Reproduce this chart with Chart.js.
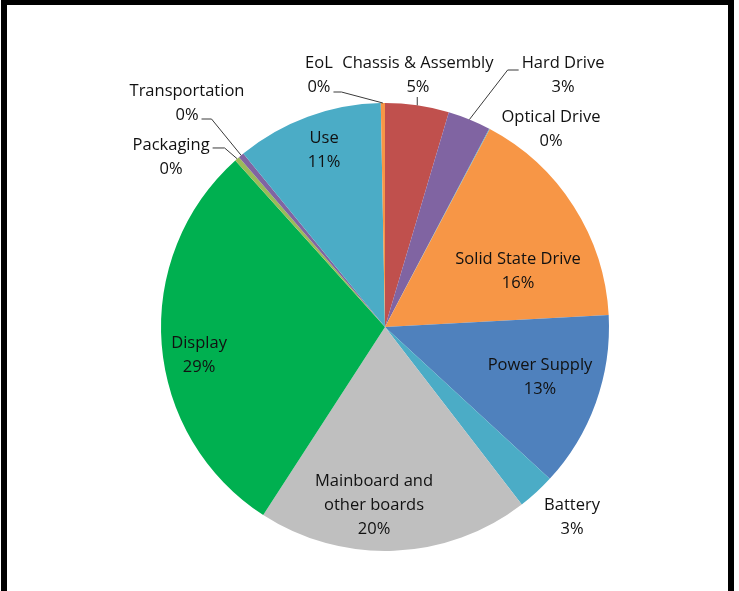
<!DOCTYPE html>
<html>
<head>
<meta charset="utf-8">
<script src="https://cdn.jsdelivr.net/npm/chart.js@4/dist/chart.umd.min.js"></script>
<style>
  html, body { margin: 0; padding: 0; background: #fff; }
  body { width: 739px; height: 591px; position: relative; overflow: hidden; }
  #frame { position: absolute; left: 1px; top: 0; width: 733px; height: 600px; box-sizing: border-box;
           border-top: 5px solid #000; border-left: 6px solid #000; border-right: 6px solid #000; pointer-events: none; z-index: 2; }
  #wrap { position: absolute; left: 0; top: 0; width: 739px; height: 591px; }
</style>
</head>
<body>
<div id="wrap"><canvas id="c"></canvas></div>
<div id="frame"></div>
<script>
// ---- data ----
const categories = ['Chassis & Assembly', 'Hard Drive', 'Optical Drive', 'Solid State Drive', 'Power Supply', 'Battery',
                    'Mainboard and other boards', 'Display', 'Packaging', 'Transportation', 'Use', 'EoL'];
const shares = [4.6, 3.1, 0.05, 16.4, 12.7, 2.7, 19.6, 29.2, 0.35, 0.4, 10.6, 0.3];
const labelLines = [['Chassis & Assembly'], ['Hard Drive'], ['Optical Drive'], ['Solid State Drive'], ['Power Supply'], ['Battery'],
                    ['Mainboard and', 'other boards'], ['Display'], ['Packaging'], ['Transportation'], ['Use'], ['EoL']];
const sliceColors = ['#C0504D', '#8064A2', '#4BACC6', '#F79646', '#4F81BD', '#4BACC6',
                     '#BFBFBF', '#00B050', '#9BBB59', '#8064A2', '#4BACC6', '#F79646'];

// ---- label layout (fractions of radius from the pie centre) ----
const labelLayout = [
  { fx: 0.147, fy: -1.125, leader: { type: 'down' } },
  { fx: 0.795, fy: -1.125, leader: { type: 'elbow', line: 0, side: 'left', dy: 7, elbow: 11 } },
  { fx: 0.741, fy: -0.884 },
  { fx: 0.594, fy: -0.248 },
  { fx: 0.692, fy: 0.223 },
  { fx: 0.835, fy: 0.848 },
  { fx: -0.049, fy: 0.797 },
  { fx: -0.830, fy: 0.125 },
  { fx: -0.955, fy: -0.759, leader: { type: 'elbow', line: 0, side: 'right', dy: 3, elbow: 12 } },
  { fx: -0.884, fy: -1.0, leader: { type: 'elbow', line: 1, side: 'right', dy: 4, elbow: 10 } },
  { fx: -0.272, fy: -0.790 },
  { fx: -0.295, fy: -1.125, leader: { type: 'elbow', line: 1, side: 'right', dy: 5, elbow: 8 } }
];

const FONT = '16.5px "Open Sans", sans-serif';
const LINE_H = 24;

const labelPlugin = {
  id: 'pieLabels',
  afterDatasetsDraw(chart) {
    const ctx = chart.ctx;
    const meta = chart.getDatasetMeta(0);
    const total = shares.reduce((a, b) => a + b, 0);
    ctx.save();
    ctx.font = FONT;
    ctx.fillStyle = '#111';
    ctx.textAlign = 'center';
    ctx.textBaseline = 'middle';
    meta.data.forEach((arc, i) => {
      const R = arc.outerRadius, cx = arc.x, cy = arc.y;
      const lay = labelLayout[i];
      const bx = cx + lay.fx * R, by = cy + lay.fy * R;
      const lines = labelLines[i].concat([Math.round(shares[i] / total * 100) + '%']);
      const y0 = by - (lines.length - 1) / 2 * LINE_H;
      lines.forEach((t, k) => ctx.fillText(t, bx, y0 + k * LINE_H));
      if (lay.leader) {
        const mid = (arc.startAngle + arc.endAngle) / 2;
        const px = cx + Math.cos(mid) * R, py = cy + Math.sin(mid) * R;
        ctx.beginPath();
        ctx.strokeStyle = '#3a3a3a';
        ctx.lineWidth = 1;
        if (lay.leader.type === 'down') {
          const sy = y0 + (lines.length - 1) * LINE_H + 10;
          ctx.moveTo(px, sy);
          ctx.lineTo(px, py);
        } else {
          const L = lay.leader;
          const w = ctx.measureText(lines[L.line]).width;
          const ly = y0 + L.line * LINE_H + L.dy;
          const sx = L.side === 'right' ? bx + w / 2 + 3 : bx - w / 2 - 3;
          const ex = L.side === 'right' ? sx + L.elbow : sx - L.elbow;
          ctx.moveTo(sx, ly);
          ctx.lineTo(ex, ly);
          ctx.lineTo(px, py);
        }
        ctx.stroke();
      }
    });
    ctx.restore();
  }
};

new Chart(document.getElementById('c'), {
  type: 'pie',
  data: {
    labels: categories,
    datasets: [{ data: shares, backgroundColor: sliceColors, borderWidth: 0 }]
  },
  options: {
    responsive: true,
    maintainAspectRatio: false,
    animation: false,
    layout: { padding: { left: 161, right: 130, top: 103, bottom: 40 } },
    plugins: { legend: { display: false }, tooltip: { enabled: false } }
  },
  plugins: [labelPlugin]
});
</script>
</body>
</html>
